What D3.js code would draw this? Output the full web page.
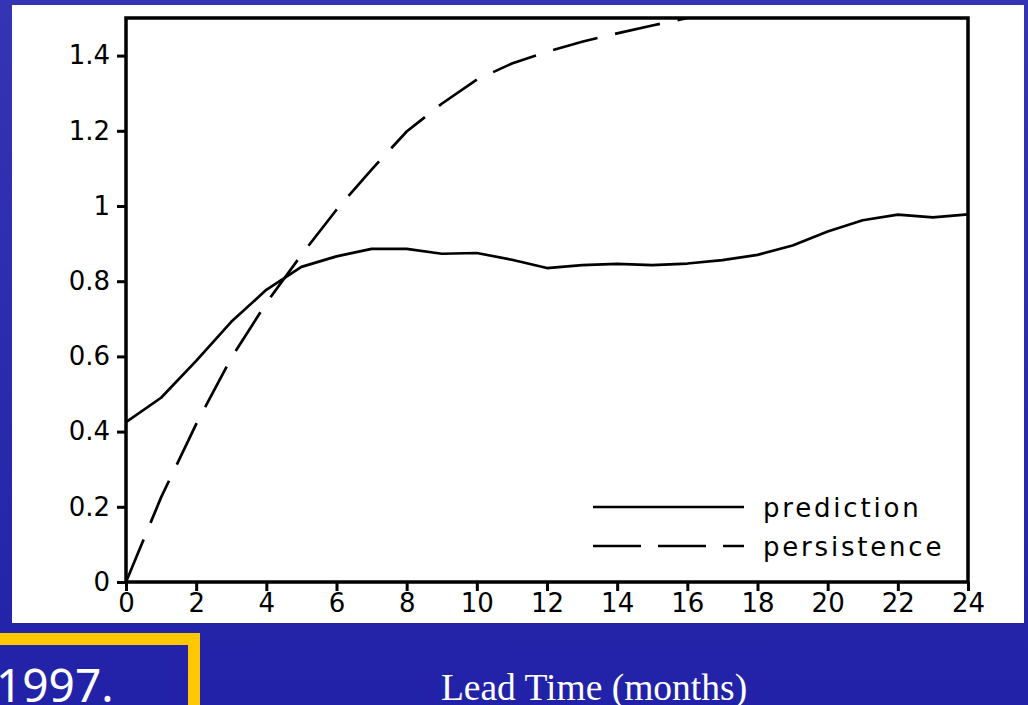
<!DOCTYPE html>
<html>
<head>
<meta charset="utf-8">
<script src="https://cdn.jsdelivr.net/npm/d3@7"></script>
<style>
  html, body { margin: 0; padding: 0; overflow: hidden; }
  svg { display: block; }
</style>
</head>
<body>
<svg id="chart" width="1028" height="705"></svg>
<script>
// lead time in months
var months = d3.range(0, 25);
var prediction = [0.425, 0.49, 0.588, 0.692, 0.777, 0.838, 0.866, 0.886, 0.886, 0.873, 0.875, 0.857,
    0.835, 0.843, 0.846, 0.843, 0.847, 0.856, 0.870, 0.895, 0.932, 0.962, 0.977, 0.970, 0.978];
var persistence = [0, 0.225, 0.42, 0.596, 0.742, 0.87, 0.99, 1.097, 1.198, 1.272, 1.336, 1.379,
    1.41, 1.437, 1.459, 1.48, 1.5];
var xTicks = d3.range(0, 25, 2);
var yTicks = [0, 0.2, 0.4, 0.6, 0.8, 1, 1.2, 1.4];
var seriesNames = ["prediction", "persistence"];

var width = 1028, height = 705;
var svg = d3.select("#chart");
var defs = svg.append("defs");

var bg = defs.append("linearGradient").attr("id", "bg").attr("x1", 0).attr("y1", 0).attr("x2", 0).attr("y2", 1);
bg.append("stop").attr("offset", "0%").attr("stop-color", "#3434b4");
bg.append("stop").attr("offset", "100%").attr("stop-color", "#2222a8");
var glow = defs.append("radialGradient").attr("id", "glow").attr("cx", 0).attr("cy", 0.5).attr("r", 0.5);
glow.append("stop").attr("offset", "0%").attr("stop-color", "#8f8fd8").attr("stop-opacity", 0.9);
glow.append("stop").attr("offset", "100%").attr("stop-color", "#2222a8").attr("stop-opacity", 0);

svg.append("rect").attr("width", width).attr("height", height).attr("fill", "url(#bg)");
svg.append("ellipse").attr("cx", 0).attr("cy", 340).attr("rx", 40).attr("ry", 160).attr("fill", "url(#glow)");

// white panel
svg.append("rect").attr("x", 12).attr("y", 5).attr("width", 1012).attr("height", 618).attr("fill", "#fff");

var margin = { left: 126, top: 18, right: 968, bottom: 582 };
var x = d3.scaleLinear().domain([0, 24]).range([margin.left, margin.right]);
var y = d3.scaleLinear().domain([0, 1.5]).range([margin.bottom, margin.top]);

var tickFont = "'DejaVu Sans', sans-serif";

defs.append("clipPath").attr("id", "plotclip").append("rect")
    .attr("x", margin.left).attr("y", margin.top)
    .attr("width", margin.right - margin.left).attr("height", margin.bottom - margin.top);

var line = d3.line().x((d, i) => x(months[i])).y(d => y(d));

var plot = svg.append("g").attr("clip-path", "url(#plotclip)");
plot.append("path").datum(prediction)
    .attr("d", line).attr("fill", "none").attr("stroke", "#000").attr("stroke-width", 2.7)
    .attr("stroke-linejoin", "round");
plot.append("path").datum(persistence)
    .attr("d", line).attr("fill", "none").attr("stroke", "#000").attr("stroke-width", 2.7)
    .attr("stroke-dasharray", "46,18");

// frame
svg.append("rect")
    .attr("x", margin.left).attr("y", margin.top)
    .attr("width", margin.right - margin.left).attr("height", margin.bottom - margin.top)
    .attr("fill", "none").attr("stroke", "#000").attr("stroke-width", 3.5);

var xAxis = svg.append("g").attr("transform", `translate(0,${margin.bottom})`)
    .call(d3.axisBottom(x).tickValues(xTicks).tickSize(9).tickPadding(3).tickFormat(d3.format("d")));
var yAxis = svg.append("g").attr("transform", `translate(${margin.left},0)`)
    .call(d3.axisLeft(y).tickValues(yTicks).tickSize(9).tickPadding(7).tickFormat(d => String(+d.toFixed(1))));
[xAxis, yAxis].forEach(g => {
    g.select(".domain").remove();
    g.selectAll(".tick line").attr("stroke", "#000").attr("stroke-width", 3);
    g.selectAll(".tick text").attr("fill", "#000").style("font-family", tickFont).style("font-size", "26px");
});

// legend
var legend = svg.append("g").selectAll("g").data(seriesNames).join("g")
    .attr("transform", (d, i) => `translate(593,${507 + i * 39})`);
legend.append("line").attr("x1", 0).attr("x2", 151)
    .attr("stroke", "#000").attr("stroke-width", 2.7)
    .attr("stroke-dasharray", (d, i) => i ? "48,17" : null);
legend.append("text").attr("x", 170).attr("y", 10).text(d => d)
    .style("font-family", tickFont).style("font-size", "26px").style("letter-spacing", "2.8px")
    .attr("fill", "#000");

// footer
svg.append("rect").attr("x", -20).attr("y", 639).attr("width", 214).attr("height", 100)
    .attr("fill", "none").attr("stroke", "#ffc800").attr("stroke-width", 12);
svg.append("text").attr("x", -4).attr("y", 702).text("1997.")
    .attr("fill", "#fff").style("font-family", "'Noto Sans', sans-serif").style("font-size", "46px");
svg.append("text").attr("x", 594).attr("y", 700).attr("text-anchor", "middle").text("Lead Time (months)")
    .attr("fill", "#fff").style("font-family", "'Liberation Serif', serif").style("font-size", "37.5px");
</script>
</body>
</html>
